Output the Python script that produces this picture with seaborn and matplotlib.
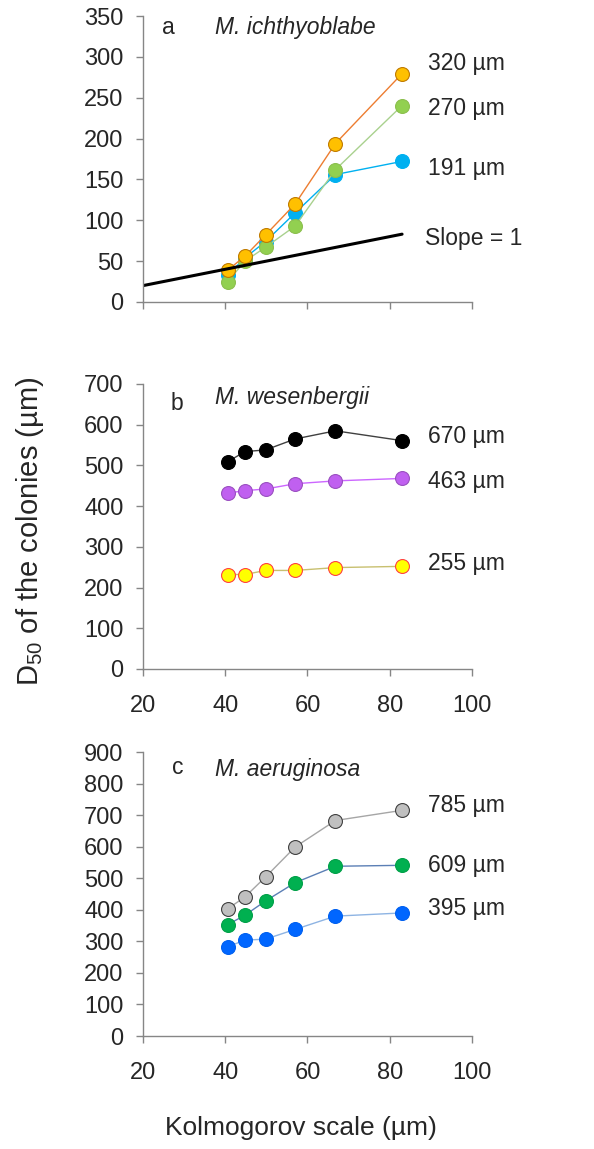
import matplotlib
matplotlib.use("Agg")
import matplotlib.pyplot as plt
import seaborn as sns

# --- data ---
kolmo = [40.6, 44.8, 49.8, 57.0, 66.8, 82.9]

# a: M. ichthyoblabe
ich_191 = [33, 54, 74, 109, 156, 172]
ich_270 = [25, 50, 67, 93, 162, 240]
ich_320 = [39, 56, 82, 120, 194, 279]
slope_x = [20, 83]
slope_y = [20, 83]

# b: M. wesenbergii
wes_670 = [509, 534, 538, 565, 585, 561]
wes_463 = [432, 438, 442, 455, 462, 468]
wes_255 = [232, 232, 242, 242, 249, 252]

# c: M. aeruginosa
aer_785 = [403, 441, 504, 599, 683, 715]
aer_609 = [353, 383, 428, 486, 538, 541]
aer_395 = [283, 304, 307, 338, 380, 390]

sns.set_style("white")
plt.rcParams["font.family"] = ["Liberation Sans", "DejaVu Sans"]
plt.rcParams["mathtext.default"] = "regular"

GRAY = "#868686"

fig = plt.figure(figsize=(5.94, 11.49), dpi=100)
left, width = 0.2407, 0.5539
ax_a = fig.add_axes([left, 0.7372, width, 0.986 - 0.7372])
ax_b = fig.add_axes([left, 0.4178, width, 0.6658 - 0.4178])
ax_c = fig.add_axes([left, 0.0983, width, 0.3455 - 0.0983])


def series(ax, y, line, face, edge, label, label_y):
    sns.lineplot(x=kolmo, y=y, ax=ax, color=line, lw=1.0, sort=False,
                 errorbar=None, marker="o", markersize=10,
                 markerfacecolor=face, markeredgecolor=edge,
                 markeredgewidth=0.8)
    ax.text(89.3, label_y, label, fontsize=16.5, va="center", ha="left",
            clip_on=False)


# panel a
series(ax_a, ich_191, "#00b0f0", "#00b0f0", "#00b0f0", "191 µm", 164)
series(ax_a, ich_270, "#a9d18e", "#92d050", "#8cbf4e", "270 µm", 237)
series(ax_a, ich_320, "#ed7d31", "#ffc000", "#c07a00", "320 µm", 292)
sns.lineplot(x=slope_x, y=slope_y, ax=ax_a, color="black", lw=2.2,
             errorbar=None)
ax_a.text(88.5, 78, "Slope = 1", fontsize=16.5, va="center", ha="left",
          clip_on=False)

# panel b
series(ax_b, wes_670, "#404040", "black", "black", "670 µm", 570)
series(ax_b, wes_463, "#cc66ff", "#c060f0", "#9a50c0", "463 µm", 460)
series(ax_b, wes_255, "#c8c070", "#ffff00", "#ff4040", "255 µm", 259)

# panel c
series(ax_c, aer_785, "#a6a6a6", "#c0c0c0", "#404040", "785 µm", 732)
series(ax_c, aer_609, "#5b7fb5", "#00b050", "#00a048", "609 µm", 542)
series(ax_c, aer_395, "#8eb4e3", "#0066ff", "#0060f0", "395 µm", 405)

panels = [
    (ax_a, 350, 50, "a", "M. ichthyoblabe", 0.076, 0.96, 0.96),
    (ax_b, 700, 100, "b", "M. wesenbergii", 0.103, 0.933, 0.951),
    (ax_c, 900, 100, "c", "M. aeruginosa", 0.106, 0.944, 0.937),
]
for ax, ymax, step, letter, title, lx, ly, ty in panels:
    ax.set_xlim(20, 100)
    ax.set_ylim(0, ymax)
    ax.set_xticks(range(20, 101, 20))
    ax.set_yticks(range(0, ymax + 1, step))
    ax.set_xlabel("")
    ax.set_ylabel("")
    for side in ["top", "right"]:
        ax.spines[side].set_visible(False)
    for side in ["left", "bottom"]:
        ax.spines[side].set_color(GRAY)
        ax.spines[side].set_linewidth(1.0)
    ax.tick_params(axis="both", which="major", direction="out", length=5,
                   width=1.0, color=GRAY, labelsize=17,
                   left=True, bottom=True)
    ax.tick_params(axis="y", pad=9)
    ax.tick_params(axis="x", pad=14)
    ax.text(lx, ly, letter, transform=ax.transAxes, fontsize=16.5,
            ha="center", va="center")
    ax.text(0.219, ty, title, transform=ax.transAxes, fontsize=16.5,
            style="italic", ha="left", va="center")

ax_a.tick_params(axis="x", labelbottom=False)

fig.text(0.05, 0.538, "D$_{50}$ of the colonies (µm)", rotation=90,
         fontsize=21, ha="center", va="center")
fig.text(0.507, 0.018, "Kolmogorov scale (µm)", fontsize=19,
         ha="center", va="center")

fig.savefig("out.png", dpi=100)
